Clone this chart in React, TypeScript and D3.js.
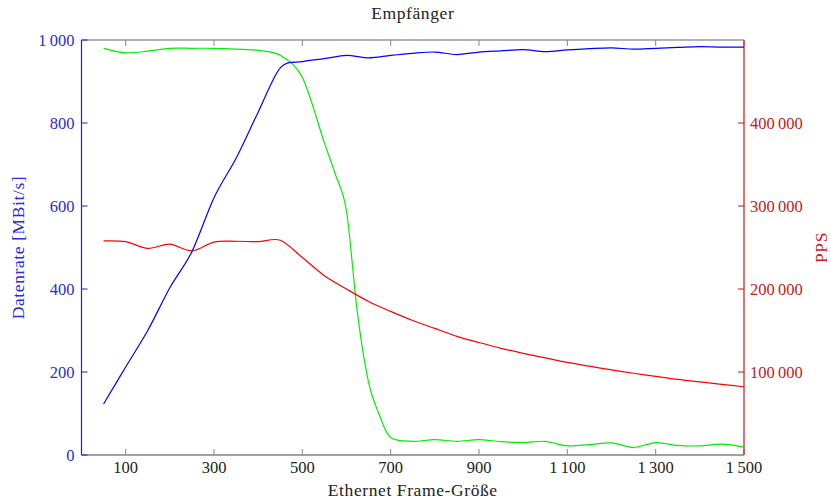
import React, { useEffect, useRef } from "react";
import * as d3 from "d3";

// frame sizes (bytes) used for the blue and red series
const frameSizes = [
  50, 100, 150, 200, 250, 300, 350, 400, 450, 500, 550, 600, 650, 700, 750,
  800, 850, 900, 950, 1000, 1050, 1100, 1150, 1200, 1250, 1300, 1350, 1400,
  1450, 1500,
];

// Datenrate [MBit/s]
const dataRate = [
  123, 212, 300, 403, 490, 620, 715, 826, 933, 948, 955, 963, 957, 963, 968,
  971, 965, 971, 974, 977, 972, 976, 979, 981, 978, 980, 982, 984, 983, 983,
];

// PPS (right axis)
const pps = [
  258000, 257000, 249000, 254000, 246000, 256500, 257500, 257000, 258800,
  238000, 216000, 200000, 185000, 173000, 162000, 152500, 143000, 135500,
  128500, 122500, 117000, 111500, 107000, 102500, 98500, 94700, 91000, 88000,
  85000, 82200,
];

// green series has denser samples around the drop
const greenFrames = [
  50, 100, 150, 200, 250, 300, 350, 400, 450, 500, 550, 575, 600, 625, 650,
  675, 700, 750, 800, 850, 900, 950, 1000, 1050, 1100, 1150, 1200, 1250, 1300,
  1350, 1400, 1450, 1500,
];
const greenValues = [
  980, 969, 973, 980, 980, 980, 978, 975, 963, 910, 752, 676, 588, 340, 175,
  95, 42, 33, 37, 33, 37, 32, 30, 33, 22, 25, 29, 18, 30, 23, 22, 26, 19,
];

const xTicks = [100, 300, 500, 700, 900, 1100, 1300, 1500];
const leftTicks = [0, 200, 400, 600, 800, 1000];
const rightTicks = [100000, 200000, 300000, 400000];

const fmt = (v: number) =>
  String(v).replace(/\B(?=(\d{3})+(?!\d))/g, "\u2009");

const App = () => {
  const ref = useRef<SVGSVGElement>(null);

  useEffect(() => {
    document.body.style.margin = "0";
    const width = 831;
    const height = 499;
    const left = 81.5,
      right = 744,
      top = 40,
      bottom = 455;
    const font = "'Liberation Serif', serif";

    const svg = d3.select(ref.current);
    svg.selectAll("*").remove();
    svg.attr("width", width).attr("height", height);

    const x = d3.scaleLinear().domain([0, 1500]).range([left, right]);
    const yL = d3.scaleLinear().domain([0, 1000]).range([bottom, top]);
    const yR = d3.scaleLinear().domain([0, 500000]).range([bottom, top]);

    const curve = d3.curveCardinal.tension(0.08);

    // frame lines top / bottom
    svg
      .append("line")
      .attr("x1", left)
      .attr("x2", right)
      .attr("y1", top)
      .attr("y2", top)
      .attr("stroke", "#666")
      .attr("stroke-width", 1);
    svg
      .append("line")
      .attr("x1", left)
      .attr("x2", right)
      .attr("y1", bottom)
      .attr("y2", bottom)
      .attr("stroke", "#444")
      .attr("stroke-width", 1);

    // x ticks (inside, top and bottom)
    xTicks.forEach((t) => {
      svg
        .append("line")
        .attr("x1", x(t))
        .attr("x2", x(t))
        .attr("y1", bottom)
        .attr("y2", bottom - 6)
        .attr("stroke", "#888");
      svg
        .append("line")
        .attr("x1", x(t))
        .attr("x2", x(t))
        .attr("y1", top)
        .attr("y2", top + 6)
        .attr("stroke", "#888");
      svg
        .append("text")
        .attr("x", x(t))
        .attr("y", bottom + 18)
        .attr("text-anchor", "middle")
        .attr("font-family", font)
        .attr("font-size", 16.5)
        .attr("fill", "#222")
        .text(fmt(t));
    });

    // left axis
    svg
      .append("line")
      .attr("x1", left)
      .attr("x2", left)
      .attr("y1", top)
      .attr("y2", bottom)
      .attr("stroke", "#2020d8")
      .attr("stroke-width", 1.2);
    leftTicks.forEach((t) => {
      svg
        .append("line")
        .attr("x1", left)
        .attr("x2", left + 6)
        .attr("y1", yL(t))
        .attr("y2", yL(t))
        .attr("stroke", "#2020d8");
      svg
        .append("text")
        .attr("x", left - 7)
        .attr("y", yL(t))
        .attr("dy", "0.35em")
        .attr("text-anchor", "end")
        .attr("font-family", font)
        .attr("font-size", 16.5)
        .attr("fill", "#2a2ad8")
        .text(fmt(t));
    });
    svg
      .append("text")
      .attr("transform", `translate(24,${(top + bottom) / 2}) rotate(-90)`)
      .attr("text-anchor", "middle")
      .attr("font-family", font)
      .attr("font-size", 17.5)
      .attr("letter-spacing", 0.6)
      .attr("fill", "#2a2ad8")
      .text("Datenrate [MBit/s]");

    // right axis
    svg
      .append("line")
      .attr("x1", right)
      .attr("x2", right)
      .attr("y1", top)
      .attr("y2", bottom)
      .attr("stroke", "#d81010")
      .attr("stroke-width", 1.2);
    rightTicks.forEach((t) => {
      svg
        .append("line")
        .attr("x1", right)
        .attr("x2", right - 6)
        .attr("y1", yR(t))
        .attr("y2", yR(t))
        .attr("stroke", "#d81010");
      svg
        .append("text")
        .attr("x", right + 6)
        .attr("y", yR(t))
        .attr("dy", "0.35em")
        .attr("text-anchor", "start")
        .attr("font-family", font)
        .attr("font-size", 16.5)
        .attr("fill", "#c81818")
        .text(fmt(t));
    });
    svg
      .append("text")
      .attr("transform", `translate(827,${(top + bottom) / 2}) rotate(-90)`)
      .attr("text-anchor", "middle")
      .attr("font-family", font)
      .attr("font-size", 17.5)
      .attr("letter-spacing", 0.6)
      .attr("fill", "#c81818")
      .text("PPS");

    // series
    const lineL = d3
      .line<number>()
      .x((d, i) => x(frameSizes[i]))
      .y((d) => yL(d))
      .curve(curve);
    const lineR = d3
      .line<number>()
      .x((d, i) => x(frameSizes[i]))
      .y((d) => yR(d))
      .curve(curve);
    const lineG = d3
      .line<number>()
      .x((d, i) => x(greenFrames[i]))
      .y((d) => yL(d))
      .curve(curve);

    svg
      .append("path")
      .attr("d", lineG(greenValues))
      .attr("fill", "none")
      .attr("stroke", "#00ee00")
      .attr("stroke-width", 1.2);
    svg
      .append("path")
      .attr("d", lineR(pps))
      .attr("fill", "none")
      .attr("stroke", "#ff0000")
      .attr("stroke-width", 1.2);
    svg
      .append("path")
      .attr("d", lineL(dataRate))
      .attr("fill", "none")
      .attr("stroke", "#0000ff")
      .attr("stroke-width", 1.2);

    // titles
    svg
      .append("text")
      .attr("x", (left + right) / 2)
      .attr("y", 19)
      .attr("text-anchor", "middle")
      .attr("font-family", font)
      .attr("font-size", 17.5)
      .attr("letter-spacing", 0.6)
      .attr("fill", "#222")
      .text("Empfänger");
    svg
      .append("text")
      .attr("x", (left + right) / 2)
      .attr("y", 496)
      .attr("text-anchor", "middle")
      .attr("font-family", font)
      .attr("font-size", 17.5)
      .attr("letter-spacing", 0.6)
      .attr("fill", "#222")
      .text("Ethernet Frame-Größe");
  }, []);

  return (
    <div>
      <svg ref={ref}></svg>
    </div>
  );
};

export default App;
